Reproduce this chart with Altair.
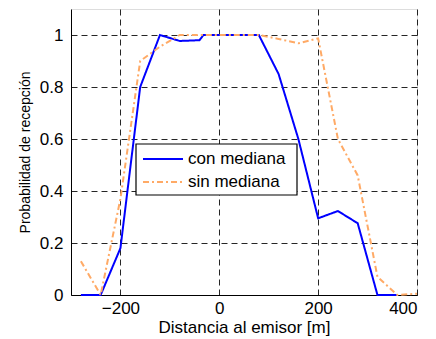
import altair as alt
import pandas as pd

x_con = [-280, -240, -200, -160, -120, -80, -40, -32, 0, 40, 80, 120, 160, 200, 240, 280, 320, 360]
y_con = [0, 0, 0.18, 0.8, 1.0, 0.977, 0.98, 1.0, 1.0, 1.0, 1.0, 0.85, 0.6, 0.295, 0.323, 0.276, 0, 0]

x_sin = [-280, -240, -200, -160, -120, -80, -40, 0, 40, 80, 120, 160, 200, 240, 280, 320, 360, 400]
y_sin = [0.13, 0, 0.37, 0.9, 0.955, 1.0, 1.0, 1.0, 1.0, 1.0, 0.985, 0.968, 0.987, 0.6, 0.46, 0.07, 0, 0.005]

series = ["con mediana", "sin mediana"]
colors = ["#0000FF", "#FFAA66"]
dashes = [[1, 0], [6, 3, 2, 3]]
x_ticks = [-200, 0, 200, 400]
y_ticks = [0, 0.2, 0.4, 0.6, 0.8, 1]

rows = []
for i, (xv, yv) in enumerate(zip(x_con, y_con)):
    rows.append({"x": xv, "y": yv, "s": series[0], "o": i})
for i, (xv, yv) in enumerate(zip(x_sin, y_sin)):
    rows.append({"x": xv, "y": yv, "s": series[1], "o": i})
df = pd.DataFrame(rows)

font = "Liberation Sans"

lines = alt.Chart(df).mark_line(strokeWidth=2).encode(
    x=alt.X("x:Q", scale=alt.Scale(domain=[-300, 400], nice=False, zero=False),
            axis=alt.Axis(values=x_ticks, title="Distancia al emisor [m]", grid=True,
                          gridDash=[6, 4], gridColor="#000000", gridOpacity=0.85,
                          tickSize=0, labelPadding=5, labelFontSize=17, titleFontSize=17,
                          titleFontWeight="normal", labelColor="#000", titleColor="#000",
                          domainColor="#000", labelFont=font, titleFont=font, titlePadding=3)),
    y=alt.Y("y:Q", scale=alt.Scale(domain=[0, 1.1], nice=False),
            axis=alt.Axis(values=y_ticks, title="Probabilidad de recepción", grid=True,
                          gridDash=[6, 4], gridColor="#000000", gridOpacity=0.85,
                          tickSize=0, labelPadding=8, labelFontSize=17, titleFontSize=14,
                          titleFontWeight="normal", labelColor="#000", titleColor="#000",
                          domainColor="#000", labelFont=font, titleFont=font, titlePadding=7,
                          labelExpr="format(datum.value, '~g')")),
    color=alt.Color("s:N", scale=alt.Scale(domain=series, range=colors), legend=None),
    strokeDash=alt.StrokeDash("s:N", scale=alt.Scale(domain=series, range=dashes), legend=None),
    order="o:Q",
)

base = alt.Chart(pd.DataFrame({"k": [0]}))
box = base.mark_rect(fill="white", stroke="black", strokeWidth=1.2).encode(
    x=alt.value(65), x2=alt.value(226), y=alt.value(135), y2=alt.value(186))

layers = [lines, box]
row_y = [150, 173]
for i, name in enumerate(series):
    layers.append(base.mark_rule(color=colors[i], strokeWidth=2, strokeDash=dashes[i]).encode(
        x=alt.value(72), x2=alt.value(112), y=alt.value(row_y[i])))
    layers.append(base.mark_text(text=name, align="left", baseline="middle", fontSize=17,
                                 font=font, color="black").encode(
        x=alt.value(117), y=alt.value(row_y[i])))

chart = alt.layer(*layers).properties(
    width=346, height=286,
    autosize=alt.AutoSizeParams(type="none"),
    padding={"left": 63, "top": 1, "right": 11, "bottom": 43},
).configure_view(stroke="#000", strokeWidth=1.5).configure(background="white")

chart.save("out.html", embed_options={"renderer": "svg", "actions": False})
